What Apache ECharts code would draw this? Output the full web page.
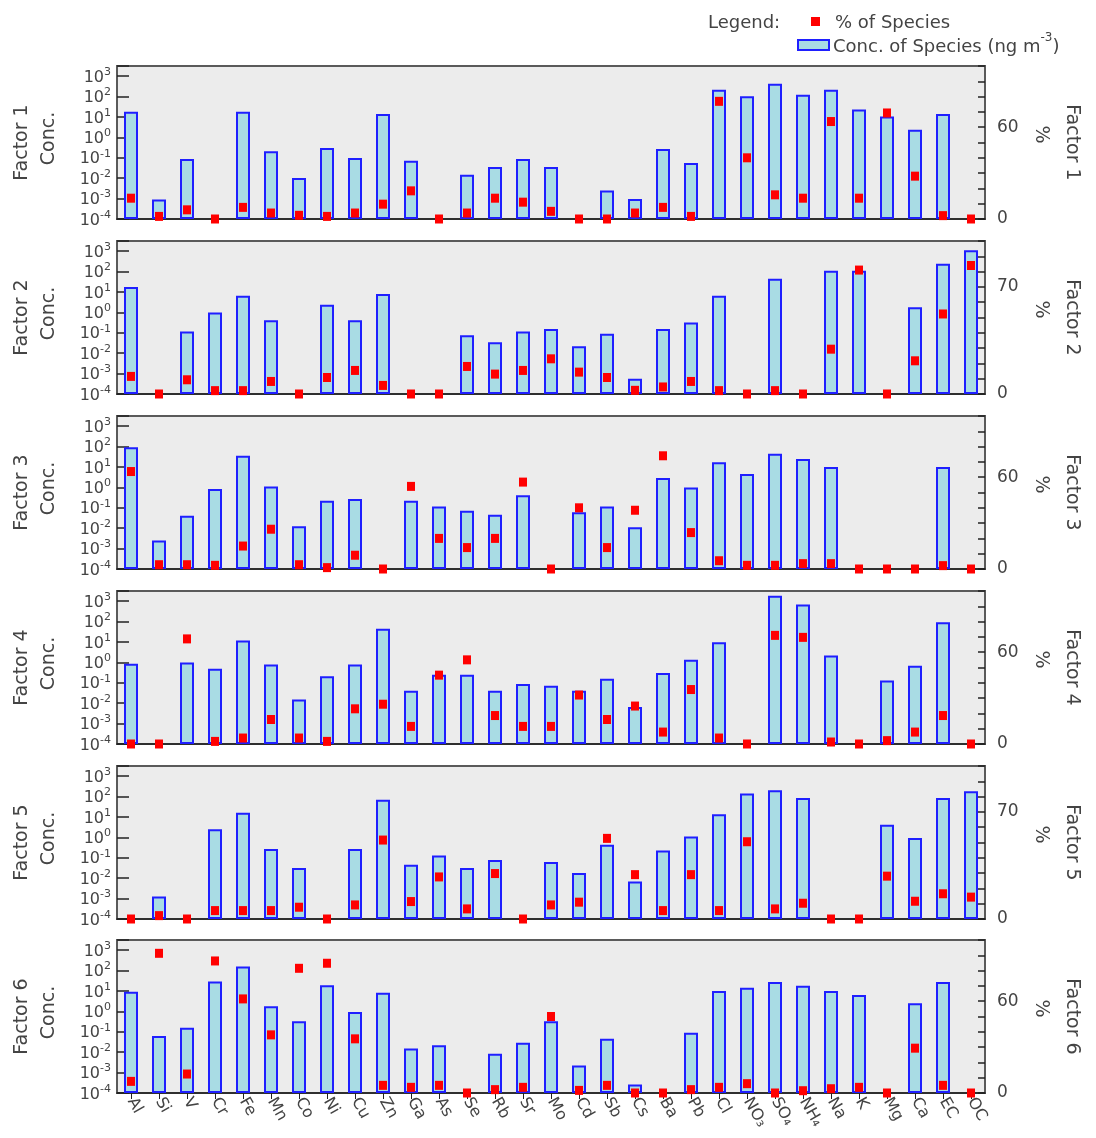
<!DOCTYPE html>
<html>
<head>
<meta charset="utf-8">
<script src="https://cdn.jsdelivr.net/npm/echarts@6/dist/echarts.min.js"></script>
<style>
  html, body { margin: 0; padding: 0; background: #ffffff; }
  #chart { width: 1096px; height: 1138px; }
</style>
</head>
<body>
<div id="chart"></div>
<script>
// Species (x categories)
const species = ['Al','Si','V','Cr','Fe','Mn','Co','Ni','Cu','Zn','Ga','As','Se','Rb','Sr','Mo','Cd','Sb','Cs','Ba','Pb','Cl','NO₃','SO₄','NH₄','Na','K','Mg','Ca','EC','OC'];

// Concentration of species per factor (ng m-3); 0 = no bar drawn
const concF1 = [18, 0.0009, 0.087, 0, 18, 0.21, 0.0103, 0.30, 0.098, 14, 0.072, 0, 0.0148, 0.035, 0.087, 0.035, 0, 0.0025, 0.00095, 0.27, 0.056, 219, 103, 430, 124, 219, 23, 10.7, 2.4, 14, 0];
const concF2 = [17.6, 0, 0.117, 1.0, 6.6, 0.41, 0, 2.4, 0.41, 8.0, 0, 0, 0.076, 0.034, 0.117, 0.155, 0.022, 0.091, 0.00056, 0.155, 0.32, 6.6, 0, 45, 0, 111, 111, 0, 1.8, 245, 1100];
const concF3 = [92, 0.0025, 0.041, 0.83, 36, 1.1, 0.0123, 0.22, 0.27, 0, 0.22, 0.117, 0.072, 0.046, 0.41, 0, 0.06, 0.117, 0.011, 2.9, 1.0, 17, 4.5, 45, 25, 10, 0, 0, 0, 10, 0];
const concF4 = [0.87, 0, 1.0, 0.49, 12, 0.78, 0.015, 0.21, 0.78, 44, 0.041, 0.25, 0.25, 0.041, 0.087, 0.072, 0.041, 0.158, 0.0065, 0.30, 1.35, 9.6, 0, 1860, 680, 2.2, 0, 0.13, 0.69, 92, 0];
const concF5 = [0, 0.00126, 0, 2.5, 16, 0.27, 0.032, 0, 0.27, 71, 0.046, 0.13, 0.032, 0.079, 0, 0.062, 0.018, 0.44, 0.0069, 0.23, 1.1, 13.5, 140, 204, 86, 0, 0, 4.2, 0.93, 86, 182];
const concF6 = [9.3, 0.062, 0.16, 29, 158, 1.8, 0.33, 19, 0.93, 8.3, 0.015, 0.022, 0, 0.0083, 0.029, 0.33, 0.0022, 0.046, 0.00026, 0, 0.089, 10, 14.5, 28, 18, 10, 6.3, 0, 2.5, 28, 0];

// Percentage of each species apportioned to the factor (%)
const pctF1 = [13.6, 1.7, 6, 0, 7.6, 3.9, 2.4, 1.7, 3.9, 9.7, 18.4, 0, 3.9, 13.6, 11, 5, 0, 0, 3.9, 7.6, 1.7, 76.9, 40, 15.8, 13.6, 63.7, 13.6, 69.3, 28, 2.2, 0];
const pctF2 = [11.5, 0, 9.3, 2.2, 2.2, 8.2, 0, 10.8, 15.4, 5.6, 0, 0, 18, 13, 15.4, 23, 14.3, 10.8, 2.4, 4.6, 8.2, 2.2, 0, 2.2, 0, 29.3, 81, 0, 21.7, 52.3, 84];
const pctF3 = [63.7, 2.8, 2.8, 2.4, 15, 26, 2.8, 0.9, 9, 0, 54, 20, 14, 20, 56.8, 0, 40, 14, 38.4, 74, 23.8, 5.4, 2.4, 2.4, 3.5, 3.5, 0, 0, 0, 2.2, 0];
const pctF4 = [0, 0, 68.7, 1.7, 3.9, 16, 3.9, 1.7, 23, 26, 11.5, 45, 55, 18.6, 11.5, 11.5, 32, 16, 24.8, 7.8, 35.6, 3.9, 0, 71, 69.7, 1.3, 0, 2.2, 7.8, 18.6, 0];
const pctF5 = [0, 2.2, 0, 5.5, 5.5, 5.5, 7.7, 0, 9.2, 51.6, 11.4, 27.5, 6.6, 29.7, 0, 9.2, 11, 52.7, 29, 5.5, 29, 5.5, 50.5, 6.6, 10.3, 0, 0, 28, 11.6, 16.5, 14.3];
const pctF6 = [7.6, 91.3, 12.4, 86.3, 61.5, 38, 81.5, 84.8, 35.4, 5, 3.7, 5, 0, 2.2, 3.7, 50, 1.7, 5, 0, 0, 2.2, 3.7, 6.1, 0, 1.5, 2.8, 3.7, 0, 29.3, 5, 0];

// Factor titles and the labelled tick on each % axis
const factorNames = ['Factor 1', 'Factor 2', 'Factor 3', 'Factor 4', 'Factor 5', 'Factor 6'];
const pctLabelTick = [60, 70, 60, 60, 70, 60];

// Concentration axis spans 10^-4 .. 10^3.5 (decades counted from the floor)
const LOG_FLOOR = -4;
const LOG_TOP = 3.5;

const concSets = [concF1, concF2, concF3, concF4, concF5, concF6];
const pctSets = [pctF1, pctF2, pctF3, pctF4, pctF5, pctF6];

const toDecades = v => (v > 0 ? Math.log10(v) - LOG_FLOOR : null);

// Panel layout
const PANEL_LEFT = 117, PANEL_RIGHT = 111, PANEL_H = 153;
const panelTops = [66, 241, 416, 591, 766, 940];

const FONT = 'DejaVu Sans';
const TXT = '#444444';

const grids = [], xAxes = [], yAxes = [], series = [], graphics = [];

panelTops.forEach((top, i) => {
  const last = i === panelTops.length - 1;
  grids.push({
    left: PANEL_LEFT, right: PANEL_RIGHT, top: top, height: PANEL_H,
    show: true, backgroundColor: '#ececec', borderColor: '#5a5a5a', borderWidth: 2,
    outerBoundsMode: 'none'
  });
  xAxes.push({
    type: 'category', gridIndex: i, data: species,
    axisLine: { show: true, lineStyle: { color: '#222', width: 1.5 } },
    axisTick: { show: last, alignWithLabel: true, length: 6, lineStyle: { color: '#222' } },
    axisLabel: {
      show: last, interval: 0, rotate: -60, margin: 6,
      fontFamily: FONT, fontSize: 16, color: TXT
    },
    splitLine: { show: false }
  });
  // Left: concentration (log decades)
  yAxes.push({
    type: 'value', gridIndex: i, position: 'left',
    min: 0, max: LOG_TOP - LOG_FLOOR, interval: 1,
    axisLine: { show: true, lineStyle: { color: '#5a5a5a', width: 2 } },
    axisTick: { show: true, inside: true, length: 12, lineStyle: { color: '#222', width: 1.5 } },
    splitLine: { show: false },
    axisLabel: {
      margin: 6, color: TXT, fontFamily: FONT,
      showMinLabel: true, showMaxLabel: true, hideOverlap: false,
      formatter: v => {
        if (Math.abs(v - Math.round(v)) > 1e-6) return '';
        return '{b|10}{s|' + (Math.round(v) + LOG_FLOOR) + '}';
      },
      rich: {
        b: { fontFamily: FONT, fontSize: 16, lineHeight: 16, color: TXT, padding: [3, 0, 0, 0] },
        s: { fontFamily: FONT, fontSize: 11, lineHeight: 11, color: TXT, padding: [0, 0, 8, 0] }
      }
    }
  });
  // Right: percent of species
  yAxes.push({
    type: 'value', gridIndex: i, position: 'right',
    min: 0, max: 100, interval: 10,
    axisLine: { show: true, lineStyle: { color: '#5a5a5a', width: 2 } },
    axisTick: { show: true, inside: true, length: 7, lineStyle: { color: '#222', width: 1.5 } },
    splitLine: { show: false },
    axisLabel: {
      margin: 12, color: TXT, fontFamily: FONT, fontSize: 17,
      showMinLabel: true, hideOverlap: false,
      formatter: v => (v === 0 || v === pctLabelTick[i]) ? String(v) : ''
    }
  });

  series.push({
    name: 'Conc. of Species', type: 'bar',
    xAxisIndex: i, yAxisIndex: 2 * i,
    data: concSets[i].map(toDecades),
    barWidth: 14,
    itemStyle: { color: '#a9dce4', borderColor: '#1f1fff', borderWidth: 2 },
    emphasis: { disabled: true },
    z: 2
  });
  series.push({
    name: '% of Species', type: 'scatter',
    xAxisIndex: i, yAxisIndex: 2 * i + 1,
    data: pctSets[i],
    symbol: 'rect', symbolSize: [8, 9],
    itemStyle: { color: '#ff0000', opacity: 1 },
    clip: false,
    emphasis: { disabled: true },
    z: 3
  });

  const mid = top + PANEL_H / 2;
  const nameStyle = { font: '19px "' + FONT + '"', fill: TXT, align: 'center', verticalAlign: 'middle' };
  graphics.push(
    { type: 'text', x: 22, y: mid, rotation: Math.PI / 2, style: Object.assign({ text: factorNames[i] }, nameStyle) },
    { type: 'text', x: 49, y: mid - 4, rotation: Math.PI / 2, style: Object.assign({ text: 'Conc.' }, nameStyle) },
    { type: 'text', x: 1041, y: mid - 8, rotation: -Math.PI / 2, style: Object.assign({ text: '%' }, nameStyle) },
    { type: 'text', x: 1072, y: mid, rotation: -Math.PI / 2, style: Object.assign({ text: factorNames[i] }, nameStyle) }
  );
});

// Legend block
graphics.push(
  { type: 'text', x: 708, y: 23, style: { text: 'Legend:', font: '18px "' + FONT + '"', fill: TXT, verticalAlign: 'middle' } },
  { type: 'rect', shape: { x: 811, y: 17, width: 9, height: 9 }, style: { fill: '#ff0000' } },
  { type: 'text', x: 835, y: 23, style: { text: '% of Species', font: '18px "' + FONT + '"', fill: TXT, verticalAlign: 'middle' } },
  { type: 'rect', shape: { x: 798, y: 40, width: 31, height: 10 }, style: { fill: '#a9dce4', stroke: '#1f1fff', lineWidth: 2 } },
  {
    type: 'text', x: 833, y: 46,
    style: {
      text: '{a|Conc. of Species (ng m}{s|-3}{a|)}', verticalAlign: 'middle', fill: TXT,
      rich: {
        a: { fontFamily: FONT, fontSize: 18, lineHeight: 18, fill: TXT, color: TXT, padding: [6, 0, 4, 0] },
        s: { fontFamily: FONT, fontSize: 12, lineHeight: 12, fill: TXT, color: TXT, padding: [0, 0, 16, 0] }
      }
    }
  }
);

const chart = echarts.init(document.getElementById('chart'), null, { renderer: 'canvas' });
chart.setOption({
  animation: false,
  backgroundColor: '#ffffff',
  textStyle: { fontFamily: FONT },
  grid: grids,
  xAxis: xAxes,
  yAxis: yAxes,
  series: series,
  graphic: graphics
});
</script>
</body>
</html>
